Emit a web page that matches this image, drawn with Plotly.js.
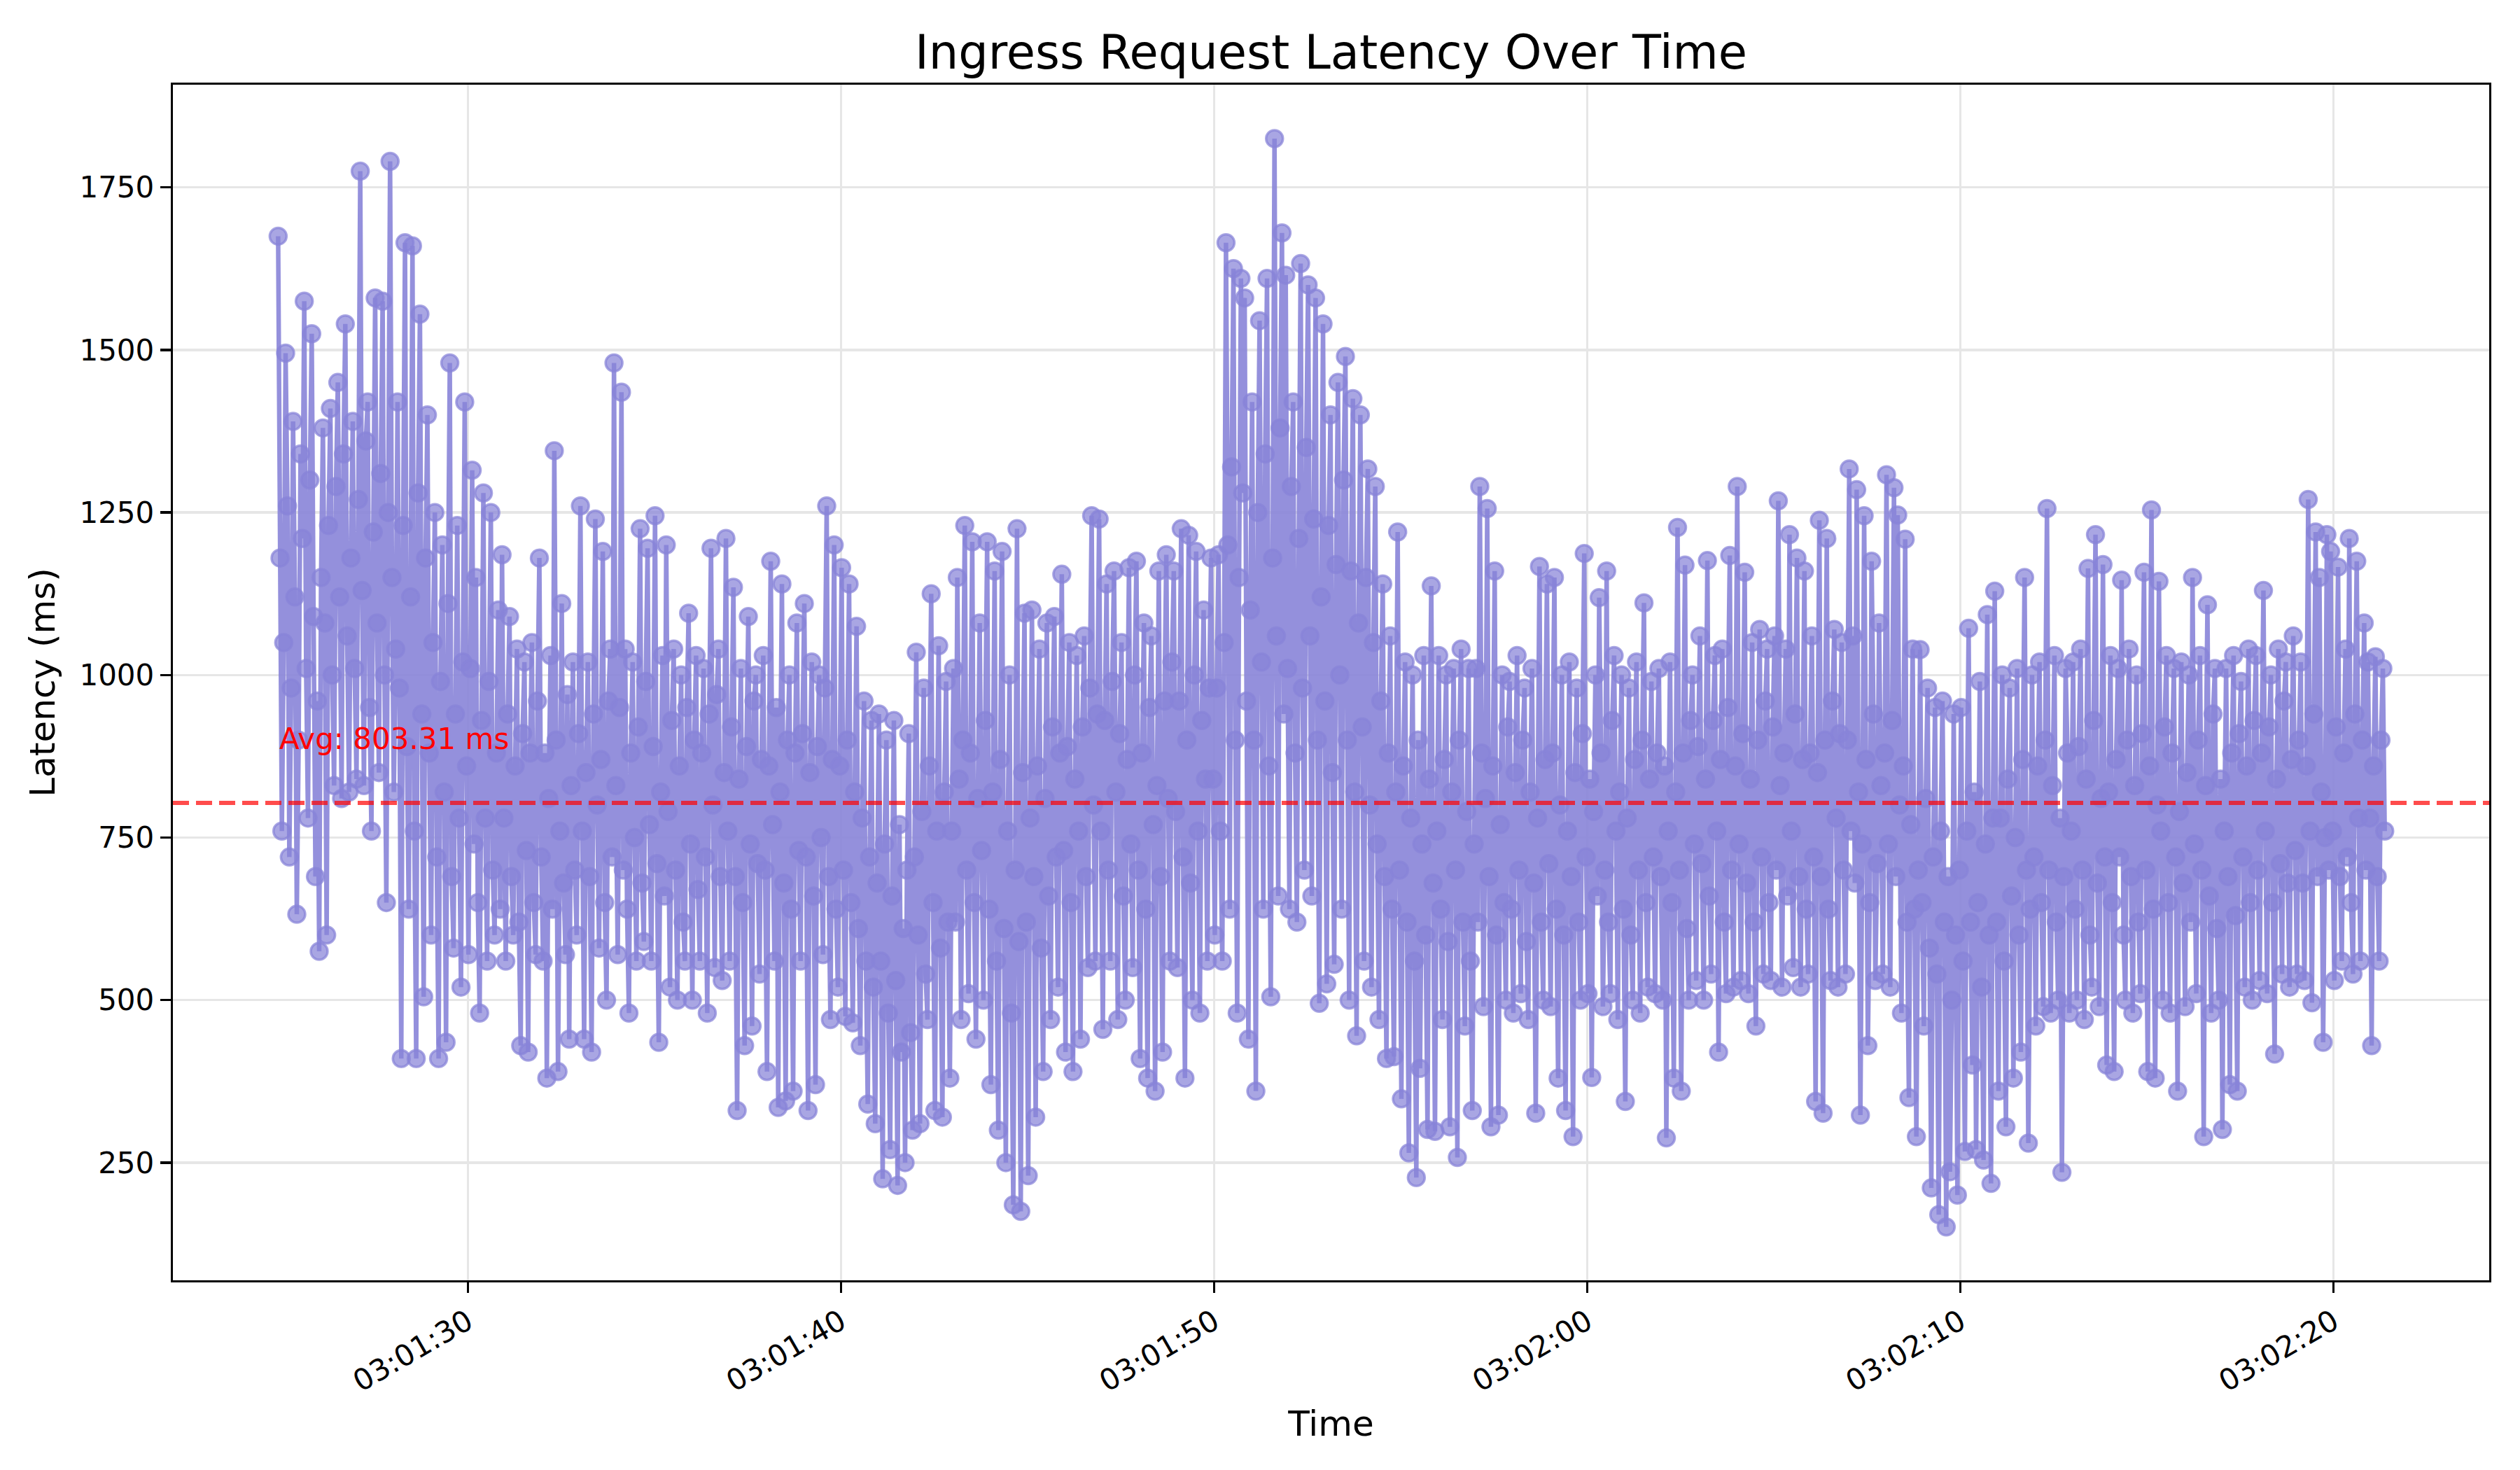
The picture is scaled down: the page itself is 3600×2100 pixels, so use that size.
<!DOCTYPE html>
<html>
<head>
<meta charset="utf-8">
<title>Ingress Request Latency Over Time</title>
<script src="https://cdn.plot.ly/plotly-3.0.1.min.js"></script>
<style>
  html, body { margin: 0; padding: 0; background: #fff; }
  #chart { width: 3600px; height: 2100px; }
</style>
</head>
<body>
<div id="chart"></div>
<script>
  "use strict";

  // samples every 50 ms, starting at 03:01:24.92
  const startTime = Date.UTC(2024, 0, 1, 3, 1, 24, 920);
  const sampleMs = 50;

  // latency (ms), one array per stretch of time
  const latency0125 = [ // 03:01:24.9 - 03:01:29.9
    1675, 1180, 760, 1050, 1495, 1260, 720, 980, 1390, 1120, 632, 900, 1340, 1210, 1575, 1010, 780, 1300, 1525, 1090,
    690, 960, 575, 1150, 1380, 1080, 600, 1230, 1410, 1000, 830, 1290, 1450, 1120, 810, 1340, 1540, 1060, 820, 1180,
    1390, 1010, 840, 1270, 1775, 1130, 830, 1360, 1420, 950, 760, 1220, 1580, 1080, 850, 1310, 1575, 1000, 650, 1250,
    1790, 1150, 820, 1040, 1420, 980, 410, 1230, 1665, 890, 640, 1120, 1660, 760, 410, 1280, 1555, 940, 505, 1180,
    1400, 880, 600, 1050, 1250, 720, 410, 990, 1200, 820, 435, 1110, 1480, 690, 580, 940, 1230, 780, 520, 1020
  ];
  const latency0130 = [ // 03:01:29.9 - 03:01:39.9
    1420, 860, 570, 1010, 1315, 740, 1150, 650, 480, 930, 1280, 780, 560, 990, 1250, 700, 600, 880, 1100, 640,
    1185, 780, 560, 940, 1090, 690, 600, 860, 1040, 620, 430, 910, 1020, 730, 420, 880, 1050, 650, 570, 960,
    1180, 720, 560, 880, 380, 810, 1030, 640, 1345, 900, 390, 760, 1110, 680, 570, 970, 440, 830, 1020, 700,
    600, 910, 1260, 760, 440, 850, 1020, 690, 420, 940, 1240, 800, 580, 870, 1190, 650, 500, 960, 1040, 720,
    1480, 830, 570, 950, 1435, 700, 1040, 640, 480, 880, 1020, 750, 560, 920, 1225, 680, 590, 990, 1195, 770,
    560, 890, 1245, 710, 435, 820, 1030, 660, 1200, 790, 520, 930, 1040, 700, 500, 860, 1000, 620, 560, 950,
    1095, 740, 500, 900, 1030, 670, 560, 880, 1010, 720, 480, 940, 1195, 800, 550, 970, 1040, 690, 530, 850,
    1210, 760, 560, 920, 1135, 690, 330, 840, 1010, 650, 430, 890, 1090, 740, 460, 960, 1000, 710, 540, 870,
    1030, 700, 390, 860, 1175, 770, 560, 950, 335, 820, 1140, 680, 345, 900, 1000, 640, 360, 880, 1080, 730,
    560, 910, 1110, 720, 330, 850, 1020, 660, 370, 890, 1000, 750, 570, 980, 1260, 690, 470, 870, 1200, 640
  ];
  const latency0140 = [ // 03:01:39.9 - 03:01:49.9
    520, 860, 1165, 700, 475, 900, 1140, 650, 465, 820, 1075, 610, 430, 780, 960, 560, 340, 720, 930, 520,
    310, 680, 940, 560, 225, 740, 900, 480, 270, 660, 930, 530, 215, 770, 420, 610, 250, 700, 910, 450,
    300, 720, 1035, 600, 310, 790, 980, 540, 470, 860, 1125, 650, 330, 760, 1045, 580, 320, 820, 990, 620,
    380, 760, 1010, 620, 1150, 840, 470, 900, 1230, 700, 510, 880, 1205, 650, 440, 810, 1080, 730, 500, 930,
    1205, 640, 370, 820, 1160, 560, 300, 870, 1190, 610, 250, 760, 1000, 480, 185, 700, 1225, 590, 175, 850,
    1095, 620, 230, 780, 1100, 690, 320, 860, 1040, 580, 390, 810, 1080, 660, 470, 920, 1090, 720, 520, 880,
    1155, 730, 420, 890, 1050, 650, 390, 840, 1030, 760, 440, 920, 1060, 690, 550, 980, 1245, 800, 560, 940,
    1240, 760, 455, 930, 1140, 700, 560, 990, 1160, 820, 470, 910, 1050, 660, 500, 870, 1165, 740, 550, 1000,
    1175, 700, 410, 880, 1080, 640, 380, 950, 1060, 770, 360, 830, 1160, 690, 420, 960, 1185, 810, 560, 1020,
    1160, 790, 550, 960, 1225, 720, 380, 900, 1215, 680, 500, 1000, 1190, 760, 480, 930, 1100, 840, 560, 980
  ];
  const latency0150 = [ // 03:01:49.9 - 03:01:59.9
    1180, 840, 600, 980, 1185, 760, 560, 1050, 1665, 1200, 640, 1320, 1625, 900, 480, 1150, 1610, 1280, 1580, 960,
    440, 1100, 1420, 900, 360, 1250, 1545, 1020, 640, 1340, 1610, 860, 505, 1180, 1825, 1060, 660, 1380, 1680, 940,
    1615, 1010, 640, 1290, 1420, 880, 620, 1210, 1633, 980, 700, 1350, 1600, 1060, 660, 1240, 1580, 900, 495, 1120,
    1540, 960, 525, 1230, 1400, 850, 555, 1170, 1450, 1000, 640, 1300, 1490, 900, 500, 1160, 1425, 820, 445, 1080,
    1400, 920, 560, 1150, 1317, 800, 520, 1050, 1290, 740, 470, 960, 1140, 690, 410, 880, 1060, 640, 413, 820,
    1220, 700, 348, 860, 1020, 620, 265, 780, 1000, 560, 227, 900, 395, 740, 1030, 600, 301, 840, 1137, 680,
    298, 760, 1030, 640, 470, 870, 1000, 590, 305, 820, 1010, 700, 258, 900, 1040, 620, 460, 790, 1010, 560,
    330, 740, 1010, 620, 1290, 880, 490, 810, 1256, 690, 305, 860, 1160, 600, 323, 770, 1000, 650, 500, 920,
    990, 640, 480, 850, 1030, 700, 510, 900, 980, 590, 470, 820, 1010, 680, 326, 780, 1167, 620, 500, 870,
    1140, 710, 490, 880, 1150, 640, 380, 800, 1000, 600, 330, 760, 1020, 690, 290, 850, 980, 620, 500, 910
  ];
  const latency0200 = [ // 03:01:59.9 - 03:02:09.9
    1187, 720, 510, 840, 381, 790, 1000, 660, 1119, 880, 490, 700, 1160, 620, 510, 930, 1030, 760, 470, 820,
    1000, 640, 344, 780, 980, 600, 500, 870, 1020, 700, 480, 900, 1111, 650, 520, 840, 990, 720, 510, 880,
    1010, 690, 500, 860, 288, 760, 1020, 650, 380, 820, 1227, 700, 360, 880, 1169, 610, 500, 930, 1000, 740,
    530, 890, 1060, 710, 500, 840, 1176, 660, 540, 930, 1030, 760, 420, 870, 1040, 620, 510, 950, 1184, 700,
    520, 860, 1290, 740, 530, 910, 1158, 680, 510, 840, 1050, 620, 460, 900, 1070, 720, 540, 960, 1040, 650,
    530, 920, 1060, 700, 1268, 830, 520, 880, 1040, 660, 1216, 760, 550, 940, 1180, 690, 520, 870, 1160, 640,
    540, 880, 1060, 720, 344, 850, 1238, 690, 326, 900, 1210, 640, 530, 960, 1070, 780, 520, 910, 1050, 700,
    540, 900, 1317, 760, 1060, 680, 1285, 820, 323, 740, 1245, 870, 430, 650, 1175, 940, 530, 710, 1080, 830,
    540, 880, 1308, 740, 520, 930, 1288, 690, 1246, 800, 480, 860, 1209, 620, 350, 770, 1040, 640, 290, 700,
    1039, 650, 460, 810, 980, 580, 211, 720, 950, 540, 170, 760, 960, 620, 151, 690, 236, 500, 940, 600
  ];
  const latency0210 = [ // 03:02:09.9 - 03:02:21.4
    200, 700, 950, 560, 267, 760, 1072, 620, 400, 820, 270, 650, 990, 520, 254, 740, 1093, 600, 218, 780,
    1129, 620, 360, 780, 1000, 560, 305, 840, 980, 660, 380, 750, 1010, 600, 420, 870, 1150, 700, 280, 640,
    1000, 720, 460, 860, 1020, 650, 490, 900, 1256, 700, 480, 830, 1030, 620, 500, 780, 235, 690, 1010, 880,
    480, 760, 1020, 640, 500, 890, 1040, 700, 470, 840, 1164, 600, 520, 930, 1216, 680, 490, 810, 1170, 720,
    400, 820, 1030, 650, 390, 870, 1010, 720, 1146, 600, 500, 900, 1040, 690, 480, 830, 1000, 620, 510, 910,
    1158, 700, 390, 860, 1254, 640, 380, 800, 1144, 760, 500, 920, 1030, 650, 480, 880, 1010, 720, 360, 790,
    1020, 680, 490, 850, 1000, 620, 1150, 740, 510, 900, 1030, 700, 290, 830, 1108, 660, 480, 940, 1010, 610,
    500, 840, 301, 760, 1010, 690, 370, 880, 1030, 630, 360, 910, 990, 720, 520, 860, 1040, 650, 500, 930,
    1030, 700, 530, 880, 1130, 760, 510, 920, 1000, 650, 417, 840, 1040, 710, 540, 960, 1020, 680, 520, 870,
    1060, 730, 540, 900, 1020, 680, 530, 860, 1270, 760, 496, 940, 1220, 690, 1150, 820, 435, 750, 1216, 700,
    1190, 760, 530, 920, 1166, 690, 560, 880, 1040, 720, 1210, 650, 540, 940, 1175, 780, 560, 900, 1080, 700,
    1020, 780, 430, 860, 1028, 690, 560, 900, 1010, 760
  ];

  const avgLatency = 803.31;
  const xTickStart = '2024-01-01 03:01:30';

  let latency = [].concat(latency0125, latency0130, latency0140,
    latency0150, latency0200, latency0210);
  let times = latency.map((v, i) => startTime + i * sampleMs);

  // the line is one path, so it can't build up colour where it crosses itself;
  // give it a stronger alpha than the markers so the dense band fills in
  const lineColor = 'rgba(136,132,216,0.9)';
  const markerColor = 'rgba(136,132,216,0.72)';
  const font = 'DejaVu Sans, sans-serif';

  let trace = {
    type: 'scatter',
    mode: 'lines+markers',
    x: times,
    y: latency,
    line: {color: lineColor, width: 6.5},
    marker: {color: markerColor, size: 24, line: {color: markerColor, width: 3.5}},
    hoverinfo: 'skip'
  };

  let layout = {
    width: 3600,
    height: 2100,
    paper_bgcolor: '#fff',
    plot_bgcolor: '#fff',
    showlegend: false,
    margin: {l: 247, r: 44, t: 121, b: 271, pad: 0},
    font: {family: font, color: '#000', size: 42},
    title: {
      text: 'Ingress Request Latency Over Time',
      font: {family: font, size: 67, color: '#000'},
      x: 0.5, xref: 'paper',
      y: 1 - 98 / 2100, yref: 'container', yanchor: 'bottom'
    },
    xaxis: {
      type: 'date',
      range: ['2024-01-01 03:01:22.10', '2024-01-01 03:02:24.17'],
      tick0: xTickStart,
      dtick: 10000,
      tickformat: '%H:%M:%S',
      tickangle: -30,
      tickfont: {family: font, size: 42},
      ticks: 'outside', ticklen: 15, tickwidth: 3.3, tickcolor: '#000',
      showgrid: true, gridcolor: '#e6e6e6', gridwidth: 3.3,
      showline: true, linecolor: '#000', linewidth: 3.3, mirror: true,
      zeroline: false,
      automargin: false,
      title: {text: 'Time', font: {family: font, size: 50}, standoff: 20}
    },
    yaxis: {
      range: [69, 1908],
      tick0: 0,
      dtick: 250,
      tickfont: {family: font, size: 42},
      ticks: 'outside', ticklen: 15, tickwidth: 3.3, tickcolor: '#000',
      showgrid: true, gridcolor: '#e6e6e6', gridwidth: 3.3,
      showline: true, linecolor: '#000', linewidth: 3.3, mirror: true,
      zeroline: false,
      automargin: false,
      title: {text: 'Latency (ms)', font: {family: font, size: 50}, standoff: 20}
    },
    shapes: [{
      type: 'line', layer: 'above',
      xref: 'paper', x0: 0, x1: 1,
      yref: 'y', y0: avgLatency, y1: avgLatency,
      line: {color: 'rgba(255,0,0,0.7)', width: 6, dash: '23px,10px'}
    }],
    annotations: [{
      x: startTime, y: avgLatency * 1.1,
      xref: 'x', yref: 'y',
      text: 'Avg: ' + avgLatency.toFixed(2) + ' ms',
      showarrow: false,
      xanchor: 'left', yanchor: 'bottom', yshift: -10,
      font: {family: font, size: 42, color: 'red'}
    }]
  };

  Plotly.newPlot('chart', [trace], layout, {displayModeBar: false, staticPlot: true});
</script>
</body>
</html>
